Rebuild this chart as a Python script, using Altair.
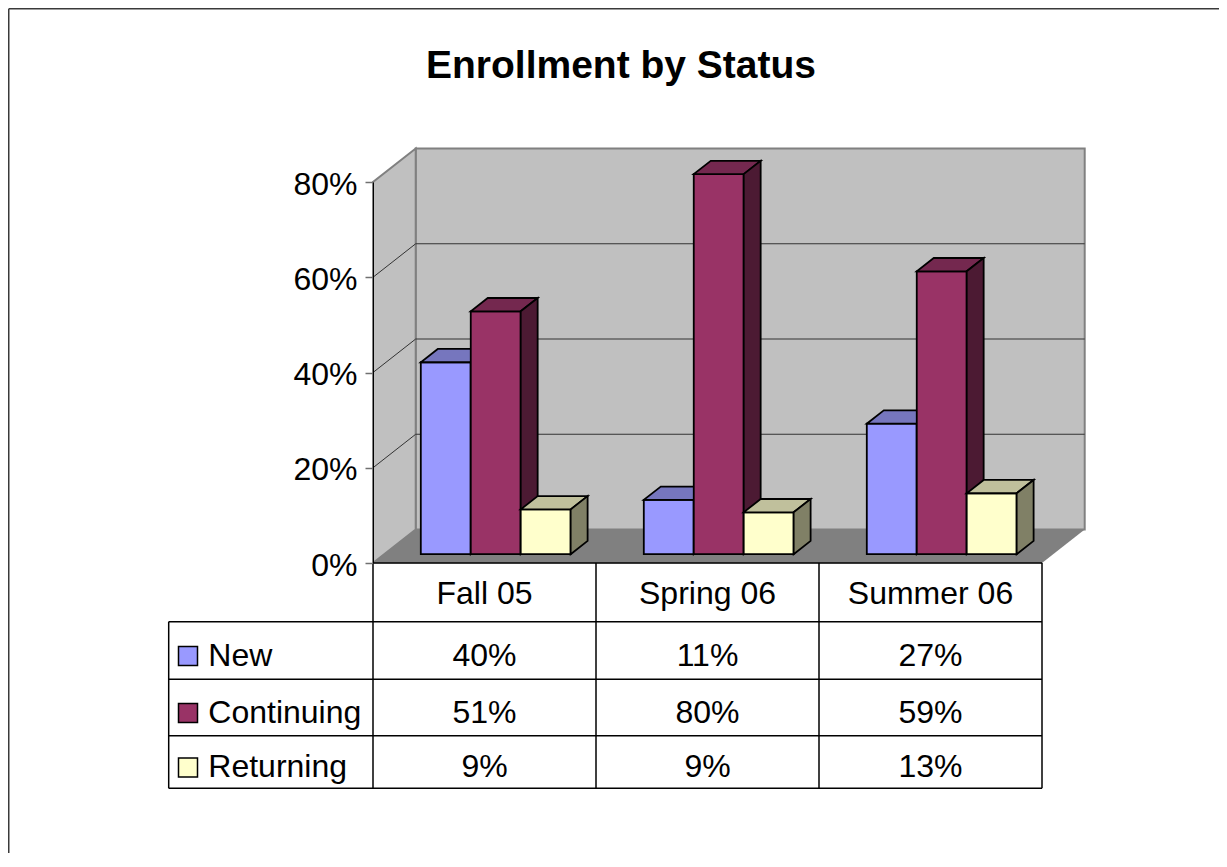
import altair as alt
import pandas as pd

# ---------------- data ----------------
categories = ["Fall 05", "Spring 06", "Summer 06"]
series = ["New", "Continuing", "Returning"]
new_values = [0.403, 0.114, 0.274]
continuing_values = [0.510, 0.798, 0.594]
returning_values = [0.094, 0.088, 0.128]
y_tick_values = [0.0, 0.2, 0.4, 0.6, 0.8]

# ---------------- styles ----------------
front_colors = ["#9999FF", "#993366", "#FFFFCC"]
top_colors = ["#7676BE", "#74284F", "#C0C09C"]
side_colors = ["#4D4D80", "#4C1A33", "#808066"]
WALL_FILL = "#C0C0C0"
FLOOR_FILL = "#808080"
WALL_EDGE = "#808080"
FONT = "Liberation Sans"

# ---------------- layout constants ----------------
PLOT_W, PLOT_H = 669, 381
Y_MAX = 0.8
N_CAT = len(categories)
PX_X = PLOT_W / N_CAT          # pixels per category unit
PX_Y = PLOT_H / Y_MAX          # pixels per value unit
WALL_DX = 42.7 / PX_X          # depth of the 3-D box
WALL_DY = 33.5 / PX_Y
BAR_F0, BAR_F1 = 0.263, 0.66   # bar front / back as fraction of depth
GAP, BW = 0.164, 0.224         # group gap and bar width (category units)
ROW_EDGES_PX = [0, 58.7, 116.3, 172.7, 225.3]
row_edges = [-p / PX_Y for p in ROW_EDGES_PX]
LEFT_COL = -204.3 / PX_X
KEY_X = -185.0 / PX_X
LABEL_X = -164.7 / PX_X

xs = alt.Scale(domain=[0, N_CAT], nice=False, zero=False)
ys = alt.Scale(domain=[0, Y_MAX], nice=False, zero=False)

YAX = alt.Axis(
    values=y_tick_values, format=".0%", title=None, grid=False,
    labelFont=FONT, labelFontSize=32, labelColor="black", labelPadding=8,
    labelOffset=2, tickColor="#707070", tickSize=8, tickWidth=1.5,
    domainColor="black", domainWidth=1, zindex=1)


def X(field, **kw):
    return alt.X(field, scale=xs, axis=None, **kw)


def Y(field, **kw):
    return alt.Y(field, scale=ys, axis=YAX, **kw)


values = {"New": new_values, "Continuing": continuing_values, "Returning": returning_values}

fx0, fy0 = BAR_F0 * WALL_DX, BAR_F0 * WALL_DY
fx1, fy1 = BAR_F1 * WALL_DX, BAR_F1 * WALL_DY
ddx, ddy = fx1 - fx0, fy1 - fy0

front_rows, top_rows, side_rows = [], [], []
for i, cat in enumerate(categories):
    for j, s in enumerate(series):
        v = values[s][i]
        x0 = i + GAP + j * BW + fx0
        x1 = x0 + BW
        bar = f"{cat}|{s}"
        front_rows.append(dict(series=s, bar=bar, x=x0, x2=x1, y=fy0, y2=v + fy0))
        top_rows.append(dict(series=s, bar=bar, y=v + fy0, x=x0, x2=x1))
        top_rows.append(dict(series=s, bar=bar, y=v + fy1, x=x0 + ddx, x2=x1 + ddx))
        side_rows.append(dict(series=s, bar=bar, x=x1, y=fy0, y2=v + fy0))
        side_rows.append(dict(series=s, bar=bar, x=x1 + ddx, y=fy1, y2=v + fy1))
front_df = pd.DataFrame(front_rows)
top_df = pd.DataFrame(top_rows)
side_df = pd.DataFrame(side_rows)

one = pd.DataFrame({"a": [0]})

# ---------------- chart-area frame (top and left edges) ----------------
frame_top = alt.Chart(one).mark_rule(color="#3a3a3a", strokeWidth=1.5).encode(
    x=alt.value(-364.25), x2=alt.value(1500), y=alt.value(-173.25))
frame_left = alt.Chart(one).mark_rule(color="#3a3a3a", strokeWidth=1.5).encode(
    x=alt.value(-364.25), y=alt.value(-173.25), y2=alt.value(1500))

# ---------------- walls ----------------
back_wall = alt.Chart(pd.DataFrame({"x": [WALL_DX], "x2": [N_CAT + WALL_DX],
                                    "y": [WALL_DY], "y2": [Y_MAX + WALL_DY]})).mark_rect(
    fill=WALL_FILL, stroke=WALL_EDGE, strokeWidth=2
).encode(x=X("x:Q"), x2="x2:Q", y=Y("y:Q"), y2="y2:Q")

side_wall = alt.Chart(pd.DataFrame({"x": [0, WALL_DX], "y": [0, WALL_DY],
                                    "y2": [Y_MAX, Y_MAX + WALL_DY]})).mark_area(
    orient="vertical", fill=WALL_FILL, stroke=WALL_EDGE, strokeWidth=2
).encode(x=X("x:Q"), y=Y("y:Q", stack=False), y2="y2:Q")

floor = alt.Chart(pd.DataFrame({"y": [0, WALL_DY], "x": [0, WALL_DX],
                                "x2": [N_CAT, N_CAT + WALL_DX]})).mark_area(
    orient="horizontal", fill=FLOOR_FILL
).encode(y=Y("y:Q"), x=X("x:Q", stack=False), x2="x2:Q")

grid_vals = [t for t in y_tick_values if 0 < t < Y_MAX]
back_grid = alt.Chart(pd.DataFrame({"t": grid_vals})).transform_calculate(
    yy=f"datum.t + {WALL_DY}", xa=f"{WALL_DX}", xb=f"{N_CAT + WALL_DX}"
).mark_rule(color="#333333", strokeWidth=1).encode(
    x=X("xa:Q"), x2="xb:Q", y=Y("yy:Q"))
side_grid = alt.Chart(pd.DataFrame({"t": grid_vals})).transform_calculate(
    yy=f"datum.t + {WALL_DY}", xa="0", xb=f"{WALL_DX}"
).mark_rule(color="#333333", strokeWidth=1).encode(
    x=X("xa:Q"), x2="xb:Q", y=Y("t:Q"), y2="yy:Q")

# ---------------- bars (drawn left to right so nearer faces cover farther ones) ----------------
bar_layers = []
for j, s in enumerate(series):
    fd = front_df[front_df.series == s]
    td = top_df[top_df.series == s]
    sd = side_df[side_df.series == s]
    bar_layers.append(alt.Chart(fd).mark_rect(
        fill=front_colors[j], stroke="black", strokeWidth=1.8).encode(
        x=X("x:Q"), x2="x2:Q", y=Y("y:Q"), y2="y2:Q"))
    bar_layers.append(alt.Chart(td).mark_area(
        orient="horizontal", fill=top_colors[j], stroke="black", strokeWidth=1.8).encode(
        y=Y("y:Q"), x=X("x:Q", stack=False), x2="x2:Q", detail="bar:N"))
    bar_layers.append(alt.Chart(sd).mark_area(
        orient="vertical", fill=side_colors[j], stroke="black", strokeWidth=1.8).encode(
        x=X("x:Q"), y=Y("y:Q", stack=False), y2="y2:Q", detail="bar:N"))

# ---------------- data table ----------------
h_rows = [dict(x=0, x2=N_CAT, y=row_edges[0])]
h_rows += [dict(x=LEFT_COL, x2=N_CAT, y=e) for e in row_edges[1:]]
h_rules = alt.Chart(pd.DataFrame(h_rows)).mark_rule(color="black", strokeWidth=1.5).encode(
    x=X("x:Q"), x2="x2:Q", y=Y("y:Q"))

v_rows = [dict(x=k, y=row_edges[0], y2=row_edges[-1]) for k in range(N_CAT + 1)]
v_rows.append(dict(x=LEFT_COL, y=row_edges[1], y2=row_edges[-1]))
v_rules = alt.Chart(pd.DataFrame(v_rows)).mark_rule(color="black", strokeWidth=1.5).encode(
    x=X("x:Q"), y=Y("y:Q"), y2="y2:Q")

header_df = pd.DataFrame({"x": [i + 0.5 for i in range(N_CAT)],
                          "y": [(row_edges[0] + row_edges[1]) / 2] * N_CAT,
                          "label": categories})
header = alt.Chart(header_df).mark_text(
    font=FONT, fontSize=32, color="black", align="center", baseline="middle", dy=2
).encode(x=X("x:Q"), y=Y("y:Q"), text="label:N")

cell_rows, name_rows = [], []
for j, s in enumerate(series):
    yc = (row_edges[j + 1] + row_edges[j + 2]) / 2
    name_rows.append(dict(series=s, y=yc, xk=KEY_X, xl=LABEL_X))
    for i, cat in enumerate(categories):
        cell_rows.append(dict(x=i + 0.5, y=yc, value=values[s][i]))
cells_df = pd.DataFrame(cell_rows)
names_df = pd.DataFrame(name_rows)

cells = alt.Chart(cells_df).mark_text(
    font=FONT, fontSize=32, color="black", align="center", baseline="middle", dy=5
).encode(x=X("x:Q"), y=Y("y:Q"), text=alt.Text("value:Q", format=".0%"))

names = alt.Chart(names_df).mark_text(
    font=FONT, fontSize=32, color="black", align="left", baseline="middle", dy=5
).encode(x=X("xl:Q"), y=Y("y:Q"), text="series:N")

keys = alt.Chart(names_df).mark_square(
    size=361, filled=True, stroke="black", strokeWidth=1.5, opacity=1, yOffset=5.5
).encode(x=X("xk:Q"), y=Y("y:Q"),
         color=alt.Color("series:N", scale=alt.Scale(domain=series, range=front_colors), legend=None))

chart = alt.layer(
    frame_top, frame_left, back_wall, side_wall, floor, back_grid, side_grid,
    *bar_layers,
    h_rules, v_rules, header, cells, names, keys,
).properties(
    width=PLOT_W, height=PLOT_H,
    autosize=alt.AutoSizeParams(type="none"),
    padding={"left": 365, "top": 174, "right": 177, "bottom": 290},
    title=alt.TitleParams("Enrollment by Status", font=FONT, fontSize=39, fontWeight="bold",
                          color="black", anchor="middle", frame="group", dx=-86.5, offset=-78),
).configure_view(strokeWidth=0).configure(background="white")

chart.save("out.html", embed_options={"renderer": "svg", "actions": False})
